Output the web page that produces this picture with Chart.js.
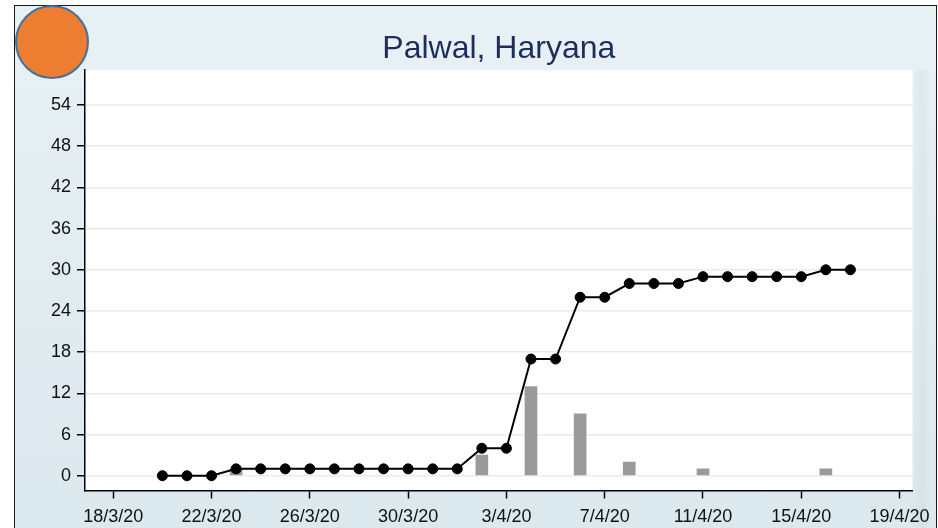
<!DOCTYPE html>
<html>
<head>
<meta charset="utf-8">
<script src="https://cdn.jsdelivr.net/npm/chart.js@4.4.0/dist/chart.umd.min.js"></script>
<style>
  html, body { margin: 0; padding: 0; width: 938px; height: 528px; overflow: hidden; background: #ffffff; }
  #frame { position: absolute; left: 14px; top: 5px; width: 921px; height: 530px;
           border: 1.5px solid #1a1a1a; background: linear-gradient(#e8f1f4, #dbe8ee); }
  #shade { position: absolute; left: 913px; top: 70px; width: 18px; height: 460px;
           background: linear-gradient(90deg, rgba(200,215,222,0.0), rgba(200,215,222,0.35), rgba(200,215,222,0)); }
  #wrap { position: absolute; left: 0; top: 0; width: 938px; height: 528px; }
  #dot { position: absolute; left: 15px; top: 5px; width: 70px; height: 70px; border-radius: 50%;
         background: #ed7d31; border: 2px solid #41719c; }
</style>
</head>
<body>
<div id="frame"></div>
<div id="shade"></div>
<div id="wrap"><canvas id="c" width="938" height="528"></canvas></div>
<div id="dot"></div>
<script>
// ---- data ----
const titleText = "Palwal, Haryana";
const dates = ["20/3/20","21/3/20","22/3/20","23/3/20","24/3/20","25/3/20","26/3/20","27/3/20","28/3/20","29/3/20","30/3/20","31/3/20",
               "1/4/20","2/4/20","3/4/20","4/4/20","5/4/20","6/4/20","7/4/20","8/4/20","9/4/20","10/4/20","11/4/20","12/4/20",
               "13/4/20","14/4/20","15/4/20","16/4/20","17/4/20"];
const cumulative = [0,0,0,1,1,1,1,1,1,1,1,1,1,4,4,17,17,26,26,28,28,28,29,29,29,29,29,30,30];
const daily      = [0,0,0,1,0,0,0,0,0,0,0,0,0,3,0,13,0,9,0,2,0,0,1,0,0,0,0,1,0];
const xTickLabels = ["18/3/20","22/3/20","26/3/20","30/3/20","3/4/20","7/4/20","11/4/20","15/4/20","19/4/20"];
const yTickValues = [0,6,12,18,24,30,36,42,48,54];

// date string -> day index relative to 18/3/20
const baseDate = Date.UTC(2020, 2, 18);
function dayIndex(s) {
  const p = s.split('/').map(Number);
  return Math.round((Date.UTC(2000 + p[2], p[1] - 1, p[0]) - baseDate) / 86400000);
}
const tickMap = {};
xTickLabels.forEach(l => { tickMap[dayIndex(l)] = l; });

const linePts = dates.map((d, i) => ({ x: dayIndex(d), y: cumulative[i] }));
const barPts = dates.map((d, i) => ({ x: dayIndex(d), y: daily[i] === 0 ? null : daily[i] }));

const whiteArea = {
  id: 'whiteArea',
  beforeDraw(chart) {
    const a = chart.chartArea, ctx = chart.ctx;
    ctx.save();
    ctx.fillStyle = '#ffffff';
    ctx.fillRect(a.left, a.top, a.right - a.left, a.bottom - a.top);
    ctx.restore();
  }
};

const tickFont = { family: '"Liberation Sans", Arial, sans-serif', size: 18 };

new Chart(document.getElementById('c'), {
  data: {
    datasets: [
      {
        type: 'line', data: linePts, order: 0,
        borderColor: '#000000', borderWidth: 2,
        pointRadius: 5, pointBackgroundColor: '#000000', pointBorderColor: '#000000', pointBorderWidth: 1,
        tension: 0, fill: false
      },
      {
        type: 'bar', data: barPts, order: 1,
        backgroundColor: '#9a9a9a', borderWidth: 0, barThickness: 12
      }
    ]
  },
  options: {
    responsive: false, animation: false, events: [],
    layout: { padding: { left: 0, right: 25, top: 0, bottom: 0 } },
    plugins: {
      legend: { display: false }, tooltip: { enabled: false },
      title: {
        display: true, text: titleText, fullSize: false, color: '#1f2d5c',
        font: { family: '"Liberation Sans", Arial, sans-serif', size: 32, weight: 'normal', lineHeight: 1.2 },
        padding: { top: 30, bottom: 1.6 }
      }
    },
    scales: {
      x: {
        type: 'linear', min: -1.15, max: 32.53, offset: false,
        afterFit(s) { s.height = 37.5; },
        afterBuildTicks(s) { s.ticks = xTickLabels.map(l => ({ value: dayIndex(l) })); },
        ticks: { color: '#111111', font: tickFont, padding: 8, maxRotation: 0, autoSkip: false,
                 callback: v => tickMap[v] || '' },
        grid: { offset: false, drawOnChartArea: false, drawTicks: true, tickLength: 8, tickColor: '#000000', tickWidth: 1.5 },
        border: { display: true, color: '#000000', width: 1.5 }
      },
      y: {
        type: 'linear', min: -2.15, max: 59.1,
        afterFit(s) { s.width = 85; },
        afterBuildTicks(s) { s.ticks = yTickValues.map(v => ({ value: v })); },
        ticks: { color: '#111111', font: tickFont, padding: 6, callback: v => String(v) },
        grid: { color: '#ebebeb', lineWidth: 1.5, drawTicks: true, tickLength: 8, tickColor: '#000000', tickWidth: 1.5 },
        border: { display: true, color: '#000000', width: 1.5 }
      }
    }
  },
  plugins: [whiteArea]
});
</script>
</body>
</html>
